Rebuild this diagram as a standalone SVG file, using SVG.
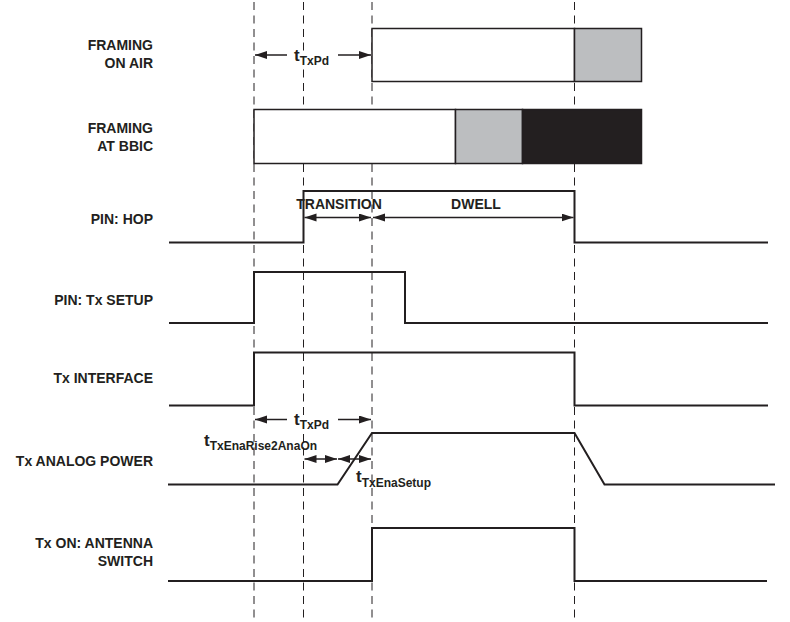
<svg xmlns="http://www.w3.org/2000/svg" width="790" height="622" viewBox="0 0 790 622">
<style>
.lbl{font-family:"Liberation Sans",Arial,sans-serif;font-weight:bold;font-size:14px;fill:#231f20;text-anchor:end}
.ann{font-family:"Liberation Sans",Arial,sans-serif;font-weight:bold;font-size:14px;fill:#231f20;text-anchor:middle}
.t{font-family:"Liberation Sans",Arial,sans-serif;font-weight:bold;font-size:17px;fill:#231f20}
.sub{font-size:12px}
.sig{fill:none;stroke:#231f20;stroke-width:2;stroke-linejoin:miter}
.dash{fill:none;stroke:#231f20;stroke-width:1;stroke-dasharray:8 5.5}
.box{stroke:#231f20;stroke-width:1.5}
.dim{fill:none;stroke:#231f20;stroke-width:1.5;marker-start:url(#ah);marker-end:url(#ah)}
.one{fill:none;stroke:#231f20;stroke-width:1.5;marker-end:url(#ah)}
</style>
<defs>
<marker id="ah" markerUnits="userSpaceOnUse" markerWidth="13" markerHeight="9" refX="12" refY="4" orient="auto-start-reverse" viewBox="0 0 13 9">
<path d="M0,0 L12,4 L0,8 z" fill="#231f20"/>
</marker>
</defs>
<rect width="790" height="622" fill="#ffffff"/>
<g id="gridlines">
<line class="dash" x1="254" y1="2" x2="254" y2="622"/>
<line class="dash" x1="303.5" y1="2" x2="303.5" y2="622"/>
<line class="dash" x1="372" y1="2" x2="372" y2="622"/>
<line class="dash" x1="574.5" y1="2" x2="574.5" y2="622"/>
</g>
<g id="framing-on-air">
<text class="lbl" x="153" y="49.5">FRAMING</text>
<text class="lbl" x="153" y="67.5">ON AIR</text>
<rect class="box" x="372" y="28.5" width="202.5" height="53" fill="#ffffff"/>
<rect class="box" x="574.5" y="28.5" width="67" height="53" fill="#bcbec0"/>
</g>
<g id="framing-at-bbic">
<text class="lbl" x="153" y="132.5">FRAMING</text>
<text class="lbl" x="153" y="150.5">AT BBIC</text>
<rect class="box" x="254" y="109.5" width="201.5" height="54" fill="#ffffff"/>
<rect class="box" x="455.5" y="109.5" width="67" height="54" fill="#bcbec0"/>
<rect class="box" x="522.5" y="109.5" width="119" height="54" fill="#231f20"/>
</g>
<g id="pin-hop">
<text class="lbl" x="153" y="224">PIN: HOP</text>
<path class="sig" d="M169,242.5 H303.5 V191 H574.5 V242.5 H768"/>
<text class="ann" x="339" y="209">TRANSITION</text>
<text class="ann" x="476" y="209">DWELL</text>
</g>
<g id="pin-tx-setup">
<text class="lbl" x="153" y="305">PIN: Tx SETUP</text>
<path class="sig" d="M169,323 H254 V272 H405 V323 H768"/>
</g>
<g id="tx-interface">
<text class="lbl" x="153" y="382.5">Tx INTERFACE</text>
<path class="sig" d="M169,405.5 H254 V352.5 H574.5 V405.5 H768"/>
</g>
<g id="tx-analog-power">
<text class="lbl" x="153" y="466">Tx ANALOG POWER</text>
<path class="sig" d="M168,484.5 H337.5 L372,433 H574.5 L604.5,484.5 H775"/>
<text class="t" x="204" y="446">t<tspan class="sub" dy="4">TxEnaRise2AnaOn</tspan></text>
<text class="t" x="356" y="482">t<tspan class="sub" dy="4.5">TxEnaSetup</tspan></text>
</g>
<g id="tx-on-antenna-switch">
<text class="lbl" x="153" y="547.5">Tx ON: ANTENNA</text>
<text class="lbl" x="153" y="565.5">SWITCH</text>
<path class="sig" d="M168,581 H372 V528 H574.5 V581 H767"/>
</g>
<g id="connectors">
<line class="one" x1="287" y1="55" x2="255" y2="55"/>
<line class="one" x1="338" y1="55" x2="371" y2="55"/>
<text class="t" x="294" y="60.5">t<tspan class="sub" dy="4">TxPd</tspan></text>
<line class="dim" x1="304.5" y1="217.5" x2="371" y2="217.5"/>
<line class="dim" x1="373" y1="217.5" x2="573.5" y2="217.5"/>
<line class="one" x1="287" y1="419.5" x2="255" y2="419.5"/>
<line class="one" x1="338" y1="419.5" x2="371" y2="419.5"/>
<text class="t" x="294" y="424.5">t<tspan class="sub" dy="4">TxPd</tspan></text>
<line class="dim" x1="304.5" y1="459" x2="337" y2="459"/>
<line class="dim" x1="338" y1="459" x2="371" y2="459"/>
</g>
</svg>
